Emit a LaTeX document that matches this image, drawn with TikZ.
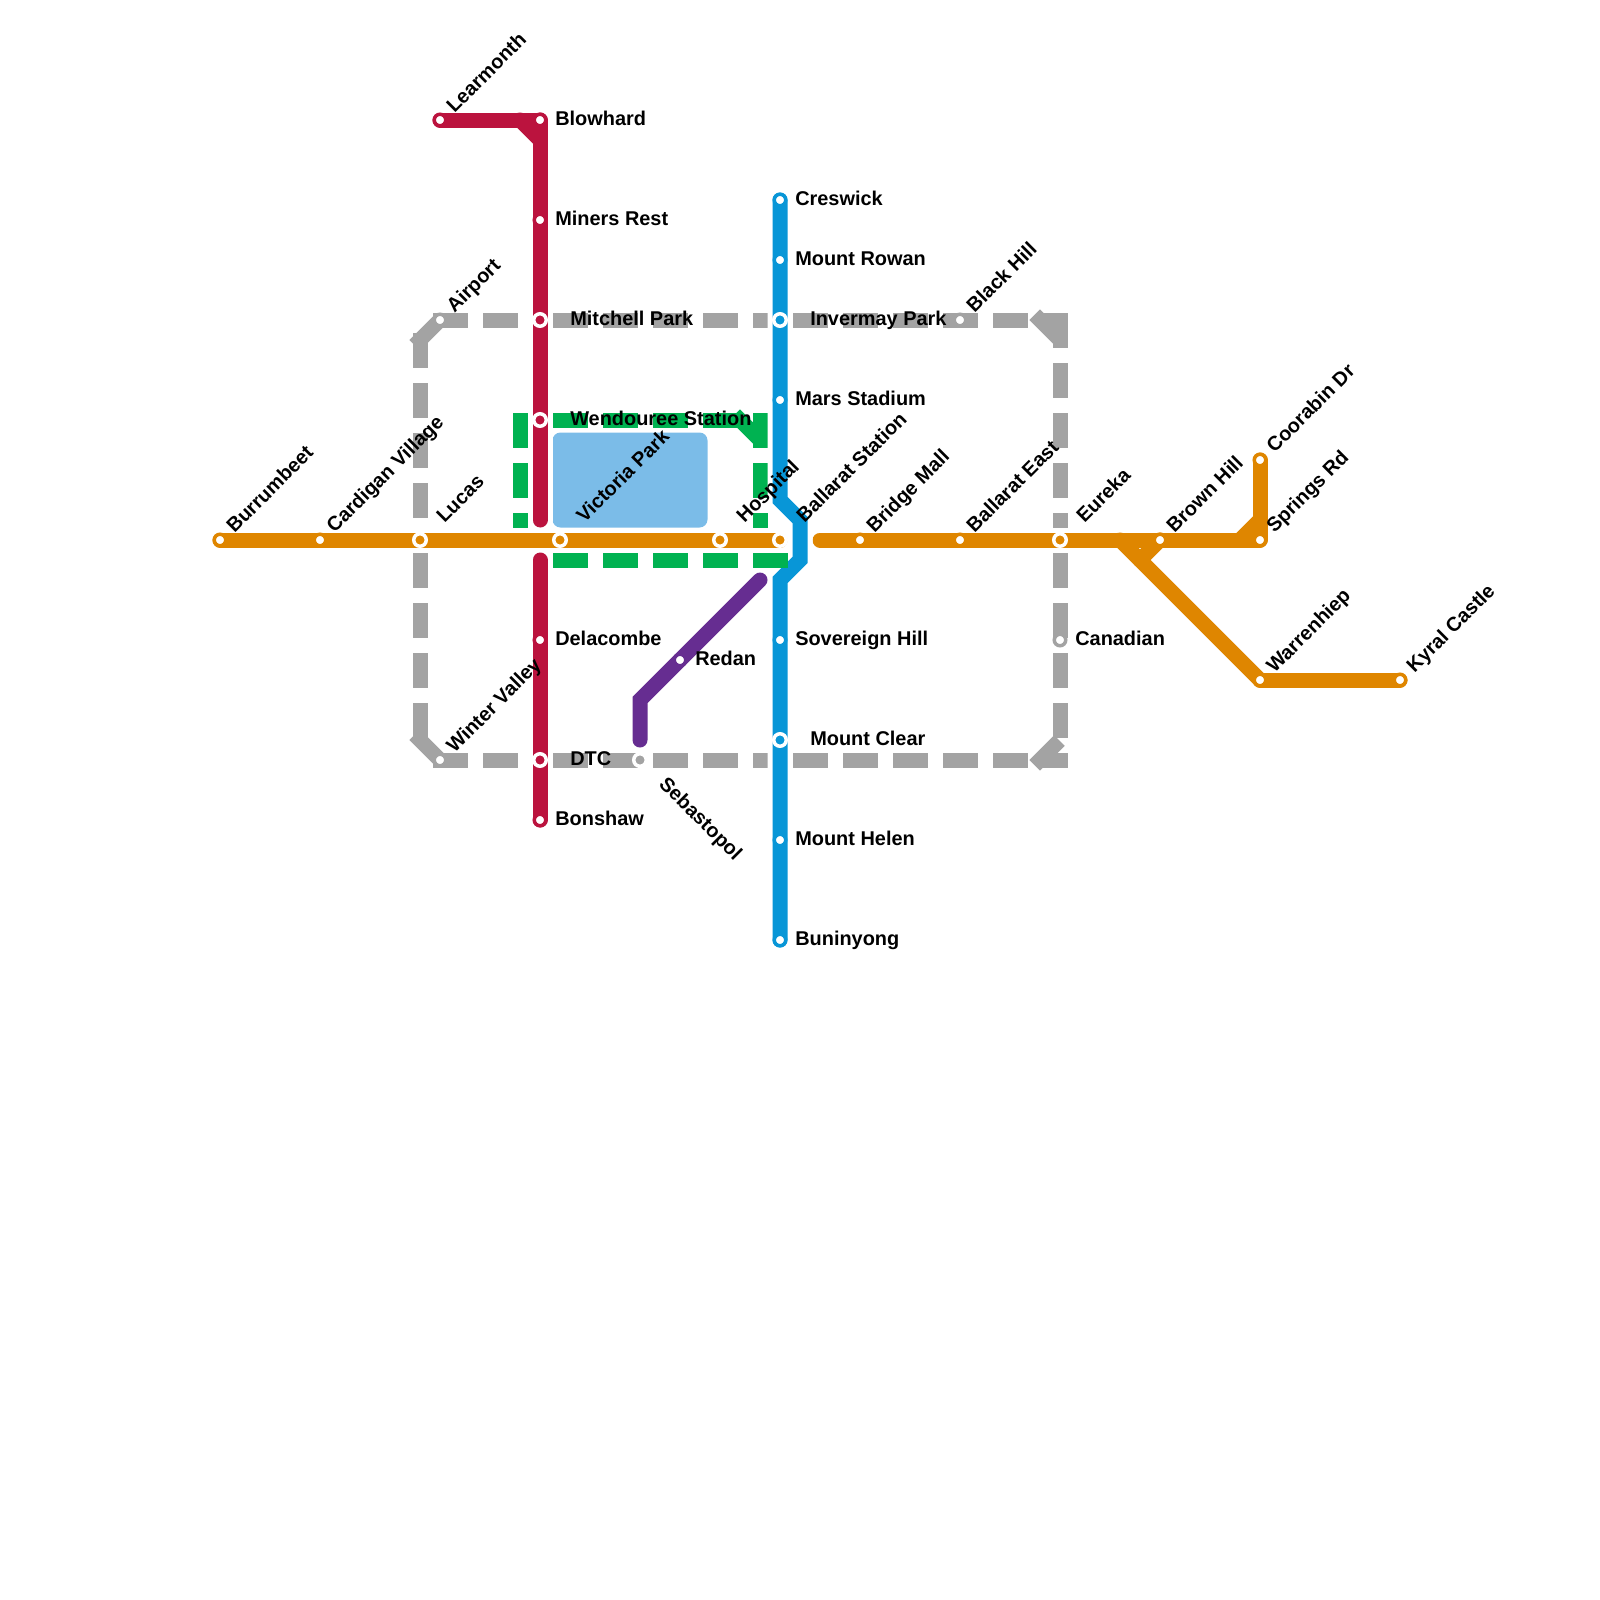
\documentclass[tikz,border=0pt]{standalone}
\usepackage{fontspec}
\setmainfont{Liberation Sans}
\usetikzlibrary{arrows.meta,positioning}
\definecolor{lineorange}{HTML}{DF8600}
\definecolor{linered}{HTML}{BB133E}
\definecolor{lineblue}{HTML}{0896D7}
\definecolor{linepurple}{HTML}{662D91}
\definecolor{linegreen}{HTML}{00B251}
\definecolor{linegrey}{HTML}{A3A3A3}
\definecolor{lake}{HTML}{7BBCE8}
\tikzset{
  solidline/.style={line width=.375cm,line cap=round,color=#1},
  halo/.style={line width=.625cm,line cap=round,color=white},
  dashline/.style={line width=.375cm,line cap=rect,dash pattern=on .5cm off .75cm,color=#1},
  stop/.style={circle,draw=#1,fill=white,line width=.0875cm,minimum size=.2875cm,inner sep=0pt},
  hub/.style={circle,draw=white,fill=#1,line width=.0875cm,minimum size=.3125cm,inner sep=0pt},
  lbl/.style={anchor=base west,inner sep=0pt,font=\fontsize{14.17}{17}\selectfont\bfseries},
  lblside/.style={lbl,shift={(.375cm,-.125cm)}},
  lblhub/.style={lbl,shift={(.75cm,-.125cm)}},
  lblup/.style={lbl,shift={(.36cm,.15cm)},rotate=45},
  lblhubup/.style={lbl,shift={(.61cm,.4cm)},rotate=45},
  lbldown/.style={lbl,shift={(.45cm,-.625cm)},rotate=-45}
}
\begin{document}
\begin{tikzpicture}[x=1cm,y=-1cm]
\useasboundingbox (0,0) rectangle (40,40);
\coordinate (burrumbeet) at (5.5,13.5);
\coordinate (cardigan) at (8,13.5);
\coordinate (lucas) at (10.5,13.5);
\coordinate (victoria) at (14,13.5);
\coordinate (hospital) at (18,13.5);
\coordinate (ballarat) at (19.5,13.5);
\coordinate (bridge) at (21.5,13.5);
\coordinate (east) at (24,13.5);
\coordinate (eureka) at (26.5,13.5);
\coordinate (brown) at (29,13.5);
\coordinate (springs) at (31.5,13.5);
\coordinate (coorabin) at (31.5,11.5);
\coordinate (warrenhiep) at (31.5,17);
\coordinate (kyral) at (35,17);
\coordinate (learmonth) at (11,3);
\coordinate (blowhard) at (13.5,3);
\coordinate (miners) at (13.5,5.5);
\coordinate (mitchell) at (13.5,8);
\coordinate (wendouree) at (13.5,10.5);
\coordinate (delacombe) at (13.5,16);
\coordinate (dtc) at (13.5,19);
\coordinate (bonshaw) at (13.5,20.5);
\coordinate (creswick) at (19.5,5);
\coordinate (rowan) at (19.5,6.5);
\coordinate (invermay) at (19.5,8);
\coordinate (mars) at (19.5,10);
\coordinate (sovereign) at (19.5,16);
\coordinate (clear) at (19.5,18.5);
\coordinate (helen) at (19.5,21);
\coordinate (buninyong) at (19.5,23.5);
\coordinate (redan) at (17,16.5);
\coordinate (sebastopol) at (16,19);
\coordinate (airport) at (11,8);
\coordinate (blackhill) at (24,8);
\coordinate (winter) at (11,19);
\coordinate (canadian) at (26.5,16);
\fill[lake,rounded corners=.2cm] (13.8125,10.8125) rectangle (17.6875,13.1875);
\draw[dashline=linegrey] (airport)--(mitchell);
\draw[dashline=linegrey] (14,8)--(invermay);
\draw[dashline=linegrey] (20,8)--(26.5,8);
\draw[dashline=linegrey] (26.5,8)--(eureka);
\draw[dashline=linegrey] (26,8)--(26.5,8.5);
\draw[dashline=linegrey] (26.5,14)--(26.5,18.5);
\draw[dashline=linegrey] (26,19)--(26.5,18.5);
\draw[dashline=linegrey] (14,19)--(19.5,19);
\draw[dashline=linegrey] (20,19)--(26.5,19);
\draw[dashline=linegrey] (winter)--(dtc);
\draw[dashline=linegrey] (10.5,8.5)--(airport);
\draw[dashline=linegrey] (10.5,8.5)--(lucas);
\draw[dashline=linegrey] (10.5,14)--(10.5,18.5);
\draw[dashline=linegrey] (10.5,18.5)--(winter);
\draw[dashline=linegreen] (13,10.5)--(13,13.5);
\draw[dashline=linegreen] (14,10.5)--(19,10.5);
\draw[dashline=linegreen] (18.5,10.5)--(19,11);
\draw[dashline=linegreen] (19,10.5)--(19,13.5);
\draw[halo] (burrumbeet)--(ballarat);
\draw[halo] (bridge)--(springs);
\draw[solidline=lineorange] (burrumbeet)--(ballarat);
\draw[solidline=lineorange] (20.5,13.5)--(springs);
\draw[solidline=lineorange] (springs)--(coorabin);
\draw[solidline=lineorange] (31,13.5)--(31.5,13);
\draw[solidline=lineorange] (28,13.5)--(warrenhiep);
\draw[solidline=lineorange] (warrenhiep)--(kyral);
\draw[solidline=lineorange] (brown)--(28.5,14);
\draw[halo] (blowhard)--(13.5,13);
\draw[solidline=linered] (learmonth)--(blowhard);
\draw[solidline=linered] (blowhard)--(13.5,13);
\draw[solidline=linered] (13,3)--(13.5,3.5);
\draw[solidline=linered] (13.5,14)--(bonshaw);
\draw[halo] (creswick)--(19.5,12.5)--(20,13)--(20,14)--(19.5,14.5)--(buninyong);
\draw[solidline=lineblue] (creswick)--(19.5,12.5)--(20,13)--(20,14)--(19.5,14.5)--(buninyong);
\draw[solidline=linepurple] (19,14.5)--(16,17.5)--(16,18.5);
\draw[dashline=linegreen] (14,14)--(19.5,14);
\node[stop=lineorange] (nburrumbeet) at (burrumbeet) {};\node[lblup] (tburrumbeet) at (burrumbeet) {Burrumbeet};
\node[stop=lineorange] (ncardigan) at (cardigan) {};\node[lblup] (tcardigan) at (cardigan) {Cardigan Village};
\node[hub=lineorange] (nlucas) at (lucas) {};\node[lblhubup] (tlucas) at (lucas) {Lucas};
\node[hub=lineorange] (nvictoria) at (victoria) {};\node[lblhubup] (tvictoria) at (victoria) {Victoria Park};
\node[hub=lineorange] (nhospital) at (hospital) {};\node[lblhubup] (thospital) at (hospital) {Hospital};
\node[hub=lineorange] (nballarat) at (ballarat) {};\node[lblhubup] (tballarat) at (ballarat) {Ballarat Station};
\node[stop=lineorange] (nbridge) at (bridge) {};\node[lblup] (tbridge) at (bridge) {Bridge Mall};
\node[stop=lineorange] (neast) at (east) {};\node[lblup] (teast) at (east) {Ballarat East};
\node[hub=lineorange] (neureka) at (eureka) {};\node[lblhubup] (teureka) at (eureka) {Eureka};
\node[stop=lineorange] (nbrown) at (brown) {};\node[lblup] (tbrown) at (brown) {Brown Hill};
\node[stop=lineorange] (nsprings) at (springs) {};\node[lblup] (tsprings) at (springs) {Springs Rd};
\node[stop=lineorange] (ncoorabin) at (coorabin) {};\node[lblup] (tcoorabin) at (coorabin) {Coorabin Dr};
\node[stop=lineorange] (nwarrenhiep) at (warrenhiep) {};\node[lblup] (twarrenhiep) at (warrenhiep) {Warrenhiep};
\node[stop=lineorange] (nkyral) at (kyral) {};\node[lblup] (tkyral) at (kyral) {Kyral Castle};
\node[stop=linered] (nlearmonth) at (learmonth) {};\node[lblup] (tlearmonth) at (learmonth) {Learmonth};
\node[stop=linered] (nblowhard) at (blowhard) {};\node[lblside] (tblowhard) at (blowhard) {Blowhard};
\node[stop=linered] (nminers) at (miners) {};\node[lblside] (tminers) at (miners) {Miners Rest};
\node[hub=linered] (nmitchell) at (mitchell) {};\node[lblhub] (tmitchell) at (mitchell) {Mitchell Park};
\node[hub=linered] (nwendouree) at (wendouree) {};\node[lblhub] (twendouree) at (wendouree) {Wendouree Station};
\node[stop=linered] (ndelacombe) at (delacombe) {};\node[lblside] (tdelacombe) at (delacombe) {Delacombe};
\node[hub=linered] (ndtc) at (dtc) {};\node[lblhub] (tdtc) at (dtc) {DTC};
\node[stop=linered] (nbonshaw) at (bonshaw) {};\node[lblside] (tbonshaw) at (bonshaw) {Bonshaw};
\node[stop=lineblue] (ncreswick) at (creswick) {};\node[lblside] (tcreswick) at (creswick) {Creswick};
\node[stop=lineblue] (nrowan) at (rowan) {};\node[lblside] (trowan) at (rowan) {Mount Rowan};
\node[hub=lineblue] (ninvermay) at (invermay) {};\node[lblhub] (tinvermay) at (invermay) {Invermay Park};
\node[stop=lineblue] (nmars) at (mars) {};\node[lblside] (tmars) at (mars) {Mars Stadium};
\node[stop=lineblue] (nsovereign) at (sovereign) {};\node[lblside] (tsovereign) at (sovereign) {Sovereign Hill};
\node[hub=lineblue] (nclear) at (clear) {};\node[lblhub] (tclear) at (clear) {Mount Clear};
\node[stop=lineblue] (nhelen) at (helen) {};\node[lblside] (thelen) at (helen) {Mount Helen};
\node[stop=lineblue] (nbuninyong) at (buninyong) {};\node[lblside] (tbuninyong) at (buninyong) {Buninyong};
\node[stop=linepurple] (nredan) at (redan) {};\node[lblside] (tredan) at (redan) {Redan};
\node[hub=linegrey] (nsebastopol) at (sebastopol) {};\node[lbldown] (tsebastopol) at (sebastopol) {Sebastopol};
\node[stop=linegrey] (nairport) at (airport) {};\node[lblup] (tairport) at (airport) {Airport};
\node[stop=linegrey] (nblackhill) at (blackhill) {};\node[lblup] (tblackhill) at (blackhill) {Black Hill};
\node[stop=linegrey] (nwinter) at (winter) {};\node[lblup] (twinter) at (winter) {Winter Valley};
\node[stop=linegrey] (ncanadian) at (canadian) {};\node[lblside] (tcanadian) at (canadian) {Canadian};
\end{tikzpicture}
\end{document}
